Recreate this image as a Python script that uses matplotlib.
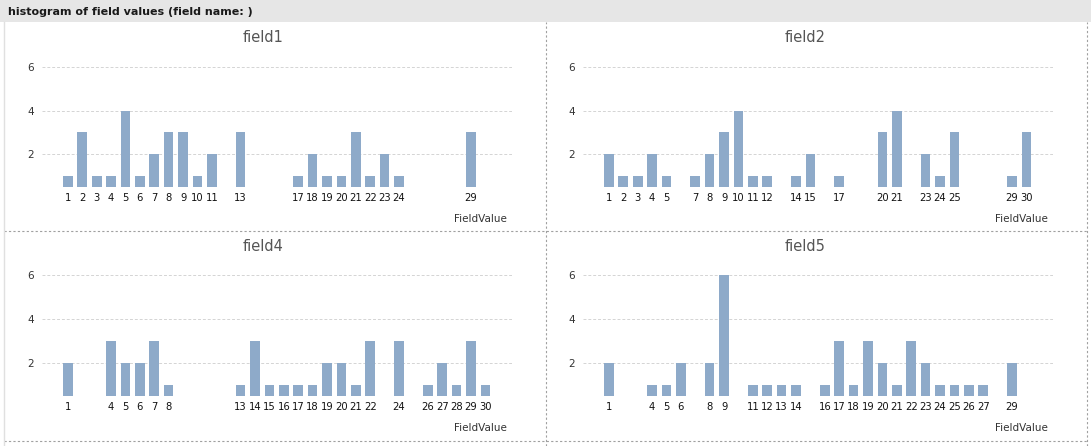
import matplotlib
matplotlib.use("Agg")
import matplotlib.pyplot as plt
from matplotlib.lines import Line2D
from matplotlib.patches import Rectangle

# field values present and their counts
field1_x = [1, 2, 3, 4, 5, 6, 7, 8, 9, 10, 11, 13, 17, 18, 19, 20, 21, 22, 23, 24, 29]
field1_n = [1, 3, 1, 1, 4, 1, 2, 3, 3, 1, 2, 3, 1, 2, 1, 1, 3, 1, 2, 1, 3]

field2_x = [1, 2, 3, 4, 5, 7, 8, 9, 10, 11, 12, 14, 15, 17, 20, 21, 23, 24, 25, 29, 30]
field2_n = [2, 1, 1, 2, 1, 1, 2, 3, 4, 1, 1, 1, 2, 1, 3, 4, 2, 1, 3, 1, 3]

field4_x = [1, 4, 5, 6, 7, 8, 13, 14, 15, 16, 17, 18, 19, 20, 21, 22, 24, 26, 27, 28, 29, 30]
field4_n = [2, 3, 2, 2, 3, 1, 1, 3, 1, 1, 1, 1, 2, 2, 1, 3, 3, 1, 2, 1, 3, 1]

field5_x = [1, 4, 5, 6, 8, 9, 11, 12, 13, 14, 16, 17, 18, 19, 20, 21, 22, 23, 24, 25, 26, 27, 29]
field5_n = [2, 1, 1, 2, 2, 6, 1, 1, 1, 1, 1, 3, 1, 3, 2, 1, 3, 2, 1, 1, 1, 1, 2]

titles = ["field1", "field2", "field4", "field5"]
y_ticks = [2, 4, 6]

W, H = 1091, 446
fig = plt.figure(figsize=(W / 100, H / 100), dpi=100)
plt.rcParams['font.family'] = ['DejaVu Sans']

def px(x0, y0, x1, y1):
    # pixel box -> figure fraction [left, bottom, width, height]
    return [x0 / W, (H - y1) / H, (x1 - x0) / W, (y1 - y0) / H]

# header bar
fig.patches.append(Rectangle((0, (H - 22) / H), 1, 22 / H, transform=fig.transFigure,
                             facecolor="#e6e6e6", edgecolor="none"))
fig.text(8 / W, 1 - 12 / H, "histogram of field values (field name: )", fontsize=8,
         fontweight="bold", color="#1a1a1a", va="center", ha="left")

# panel borders
dash = dict(color="#a0a0a0", lw=0.8, ls=(0, (2, 2)), transform=fig.transFigure)
fig.add_artist(Line2D([546 / W, 546 / W], [0, 1 - 22 / H], **dash))
fig.add_artist(Line2D([1087 / W, 1087 / W], [0, 1 - 22 / H], **dash))
fig.add_artist(Line2D([4 / W, 1087 / W], [1 - 231 / H, 1 - 231 / H], **dash))
fig.add_artist(Line2D([4 / W, 1087 / W], [1 - 441 / H, 1 - 441 / H], **dash))
fig.add_artist(Line2D([4 / W, 4 / W], [0, 1 - 22 / H], color="#e0e0e0", lw=1,
                      transform=fig.transFigure))

panels = [
    (field1_x, field1_n, 42, 56, 512, 187, 263, 38, 197, 219),
    (field2_x, field2_n, 583, 56, 1053, 187, 805, 38, 197, 219),
    (field4_x, field4_n, 42, 264, 512, 396, 263, 246, 406, 428),
    (field5_x, field5_n, 583, 264, 1053, 396, 805, 246, 406, 428),
]

for (xs, ns, x0, y0, x1, y1, tx, ty, ly, fy), title in zip(panels, titles):
    ax = fig.add_axes(px(x0, y0, x1, y1))
    ax.bar(xs, [n - 0.5 for n in ns], bottom=0.5, width=0.67, color="#8eaac9")
    ax.set_xlim(-0.8, 31.85)
    ax.set_ylim(0.5, 6.5)
    ax.set_yticks(y_ticks)
    ax.set_yticklabels([str(t) for t in y_ticks], fontsize=7.5, color="#333333")
    ax.set_xticks(xs)
    ax.set_xticklabels([str(v) for v in xs], fontsize=7.2, color="#111111")
    ax.tick_params(length=0, axis="y", pad=6)
    ax.tick_params(length=0, axis="x", pad=4)
    ax.yaxis.grid(True, color="#d4d4d4", lw=0.7, ls=(0, (3, 2)))
    ax.set_axisbelow(True)
    for s in ax.spines.values():
        s.set_visible(False)
    fig.text(tx / W, 1 - ty / H, title, fontsize=10.5, color="#555555",
             ha="center", va="center")
    fig.text((x1 - 5) / W, 1 - fy / H, "FieldValue", fontsize=7.5, color="#333333",
             ha="right", va="center")

fig.savefig("out.png", dpi=100)
